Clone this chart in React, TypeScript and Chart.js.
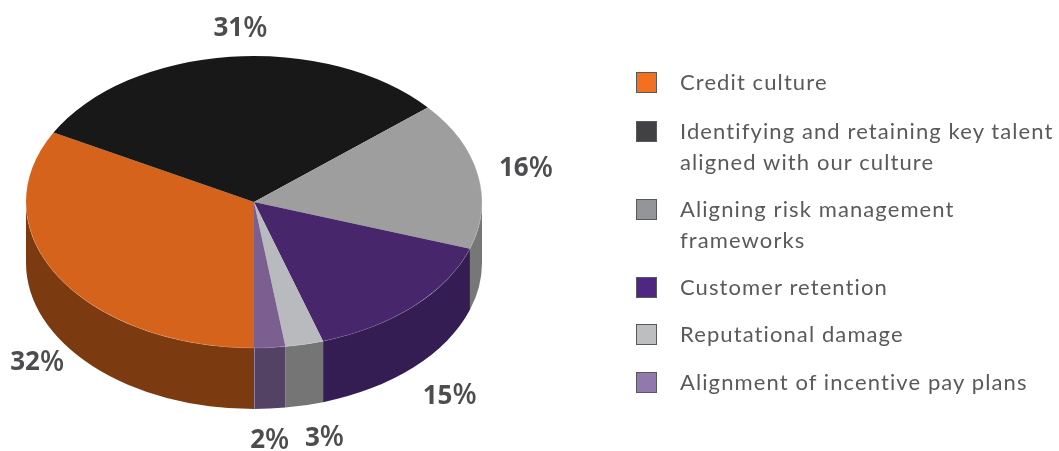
import React, { useEffect, useRef } from "react";
import { Chart, registerables } from "chart.js";

Chart.register(...registerables);

const categories = ["Credit culture", "Identifying and retaining key talent aligned with our culture", "Aligning risk management frameworks", "Customer retention", "Reputational damage", "Alignment of incentive pay plans"];
const legendLines = [["Credit culture"], ["Identifying and retaining key talent", "aligned with our culture"], ["Aligning risk management", "frameworks"], ["Customer retention"], ["Reputational damage"], ["Alignment of incentive pay plans"]];
const legendGaps = [0, 18, 16, 16, 16, 17];
const values = [32.9, 30.9, 16.4, 14.9, 2.7, 2.2];
const valueDigits = ["32", "31", "16", "15", "3", "2"];
const topColors = ["#d5631b", "#181818", "#9e9e9e", "#47266b", "#b9babd", "#7a5f90"];
const wallColors = ["#7c3a10", "#111111", "#777777", "#331d53", "#757575", "#544264"];
const legendColors = ["#f37021", "#414042", "#939598", "#4f2683", "#bcbec0", "#9179ad"];
const labelNudgeX = [-21, 10, 48, 36, 20, 0];
const labelNudgeY = [86, -28, -6, 90, 94, 93];

const VIEW = { cx: 254, cy: 202, rx: 228, ry: 146, depth: 61 };

const pie3d = {
  id: "pie3d",
  beforeDatasetsDraw(chart: any) {
    const { ctx } = chart;
    const arcs = chart.getDatasetMeta(0).data;
    ctx.save();
    arcs.forEach((arc: any, i: number) => {
      for (const [lo, hi] of [[0, Math.PI], [2 * Math.PI, 3 * Math.PI]]) {
        const a = Math.max(arc.startAngle, lo);
        const b = Math.min(arc.endAngle, hi);
        if (b <= a) continue;
        ctx.beginPath();
        ctx.ellipse(VIEW.cx, VIEW.cy, VIEW.rx, VIEW.ry, 0, a, b);
        ctx.ellipse(VIEW.cx, VIEW.cy + VIEW.depth, VIEW.rx, VIEW.ry, 0, b, a, true);
        ctx.closePath();
        ctx.fillStyle = wallColors[i];
        ctx.fill();
      }
    });
    // pale seam where the last slice's wall meets the first slice's wall
    const last = arcs[arcs.length - 1];
    const ex = VIEW.cx + VIEW.rx * Math.cos(last.endAngle) + 0.5;
    const ey = VIEW.cy + VIEW.ry * Math.sin(last.endAngle);
    ctx.strokeStyle = "#8f7fa3";
    ctx.lineWidth = 1;
    ctx.beginPath();
    ctx.moveTo(ex, ey);
    ctx.lineTo(ex, ey + VIEW.depth);
    ctx.stroke();
    ctx.restore();
    const first = arcs[0];
    const sx = VIEW.rx / first.outerRadius;
    const sy = VIEW.ry / first.outerRadius;
    ctx.save();
    ctx.translate(VIEW.cx, VIEW.cy);
    ctx.scale(sx, sy);
    ctx.translate(-first.x, -first.y);
  },
  afterDatasetsDraw(chart: any) {
    const { ctx } = chart;
    ctx.restore();
    const arcs = chart.getDatasetMeta(0).data;
    ctx.save();
    // pale rim along the front edge of the top face
    ctx.strokeStyle = "rgba(255,255,255,0.2)";
    ctx.lineWidth = 0.75;
    ctx.beginPath();
    ctx.ellipse(VIEW.cx, VIEW.cy, VIEW.rx, VIEW.ry, 0, -0.35, Math.PI);
    ctx.stroke();
    ctx.fillStyle = "#4d4d4f";
    ctx.textBaseline = "middle";
    ctx.textAlign = "left";
    arcs.forEach((arc: any, i: number) => {
      const mid = (arc.startAngle + arc.endAngle) / 2;
      const x = VIEW.cx + VIEW.rx * Math.cos(mid) + labelNudgeX[i];
      const y = VIEW.cy + VIEW.ry * Math.sin(mid) + labelNudgeY[i];
      const bold = "700 26px 'Open Sans'";
      const medium = "600 28px 'Open Sans'";
      ctx.font = bold;
      const dw = ctx.measureText(valueDigits[i]).width;
      ctx.font = medium;
      const pw = ctx.measureText("%").width;
      const left = x - (dw + pw) / 2;
      ctx.font = bold;
      ctx.fillText(valueDigits[i], left, y);
      ctx.font = medium;
      ctx.fillText("%", left + dw, y);
    });
    ctx.restore();
  },
};

export default function App() {
  const ref = useRef<HTMLCanvasElement>(null);
  useEffect(() => {
    const chart = new Chart(ref.current!, {
      type: "pie",
      data: {
        labels: categories,
        datasets: [{ data: values, backgroundColor: topColors, borderWidth: 0 }],
      },
      options: {
        animation: false,
        responsive: false,
        rotation: 180,
        layout: { padding: { left: 26, right: 577, top: 0, bottom: 0 } },
        plugins: { legend: { display: false }, tooltip: { enabled: false } },
      },
      plugins: [pie3d],
    } as any);
    return () => chart.destroy();
  }, []);

  return (
    <div style={{ position: "absolute", left: 0, top: 0, width: 1059, height: 451, overflow: "hidden", background: "#fff" }}>
      <canvas ref={ref} width={1059} height={451} style={{ display: "block" }} />
      <div style={{ position: "absolute", left: 636, top: 66, fontFamily: "'Lato'", fontSize: 22, lineHeight: "31px", letterSpacing: 1.1, color: "#5a5a5c", whiteSpace: "nowrap" }}>
        {legendLines.map((lines, i) => (
          <div key={i} style={{ position: "relative", paddingLeft: 44, marginTop: legendGaps[i] }}>
            <span style={{ position: "absolute", left: 0, top: 6, width: 21, height: 21, boxSizing: "border-box", background: legendColors[i], border: "1.5px solid #58595b" }} />
            {lines.map((l) => <div key={l}>{l}</div>)}
          </div>
        ))}
      </div>
    </div>
  );
}
